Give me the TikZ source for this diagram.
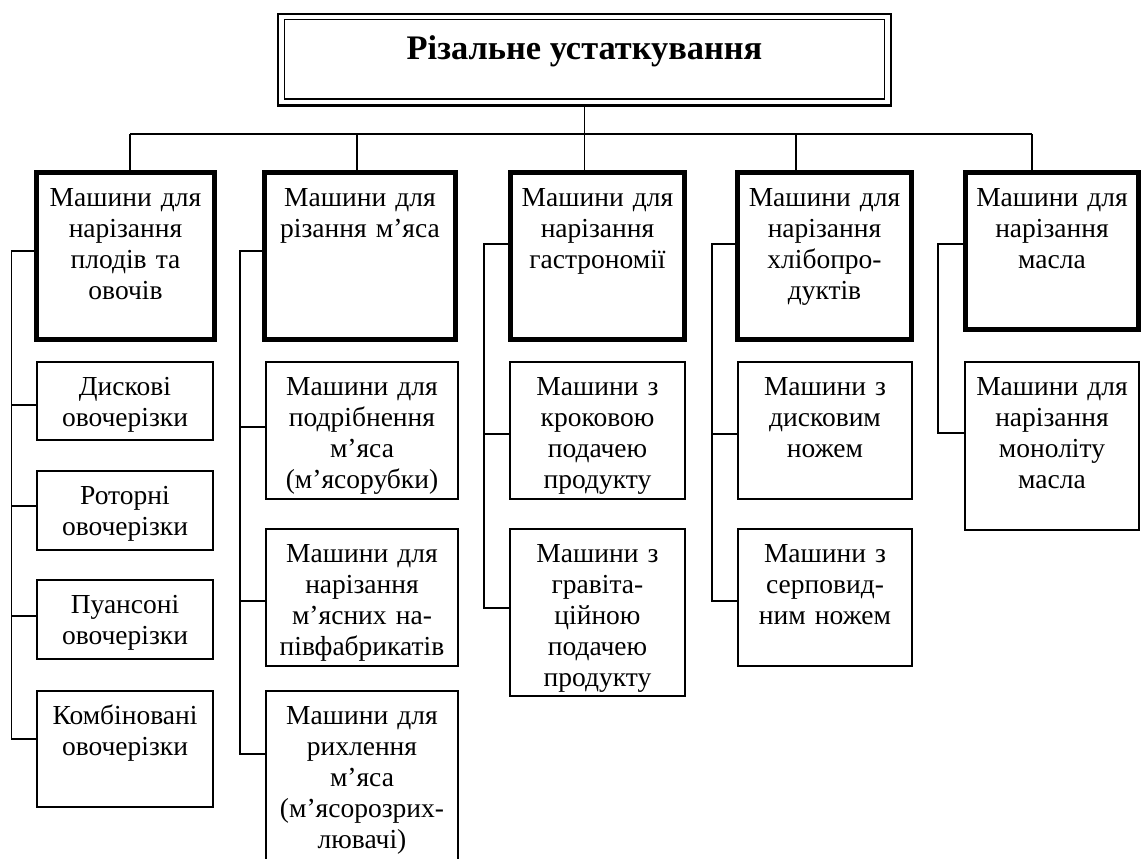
\documentclass[tikz,border=0pt]{standalone}
\usepackage{fontspec}
\setmainfont{Liberation Serif}
\usetikzlibrary{calc}
\begin{document}
\begin{tikzpicture}[x=1pt,y=-1pt,
  conn/.style={line width=1.8pt},
  catbox/.style={draw, line width=5pt, inner sep=0pt, outer sep=0pt},
  subbox/.style={draw, line width=2pt, inner sep=0pt, outer sep=0pt},
  txt/.style={anchor=base, inner sep=0pt, text width=200pt, align=center,
              font=\fontsize{27.5}{31}\selectfont},
]
\clip (0,0) rectangle (1141,859);
\fill[white] (0,0) rectangle (1141,859);

% ---- root: double frame ----
\node[draw, line width=2.5pt, minimum width=613pt, minimum height=91.3pt,
      inner sep=0pt, outer sep=0pt] (top) at (584.5,59.7) {};
\node[draw, line width=1.8pt, minimum width=600pt, minimum height=79.5pt,
      inner sep=0pt, outer sep=0pt] (topin) at (584.5,59.25) {};
\node[anchor=base, inner sep=0pt, font=\bfseries\fontsize{34.4}{38}\selectfont]
      (title) at ($(top.north)+(0,45.5)$) {Різальне устаткування};

% ---- categories ----
\node[catbox, minimum width=178pt, minimum height=167pt] (c1) at (125.5,256) {};
\node[catbox, minimum width=191pt, minimum height=167pt] (c2) at (360,256) {};
\node[catbox, minimum width=174pt, minimum height=167pt] (c3) at (597.5,256) {};
\node[catbox, minimum width=174pt, minimum height=167pt] (c4) at (824.5,256) {};
\node[catbox, minimum width=173pt, minimum height=157pt] (c5) at (1052,251) {};

\node[txt] (c1t) at ($(c1.north)+(0,33.5)$) {Машини для\\нарізання\\плодів та\\овочів};
\node[txt] (c2t) at ($(c2.north)+(0,33.5)$) {Машини для\\різання м’яса};
\node[txt] (c3t) at ($(c3.north)+(0,33.5)$) {Машини для\\нарізання\\гастрономії};
\node[txt] (c4t) at ($(c4.north)+(0,33.5)$) {Машини для\\нарізання\\хлібопро-\\дуктів};
\node[txt] (c5t) at ($(c5.north)+(0,33.5)$) {Машини для\\нарізання\\масла};

% ---- column 1 ----
\node[subbox, minimum width=176pt, minimum height=78pt]  (s11) at (125,401) {};
\node[subbox, minimum width=176pt, minimum height=79pt]  (s12) at (125,510.5) {};
\node[subbox, minimum width=176pt, minimum height=79pt]  (s13) at (125,619.5) {};
\node[subbox, minimum width=176pt, minimum height=116pt] (s14) at (125,749) {};
\node[txt] (s11t) at ($(s11.north)+(0,33.5)$) {Дискові\\овочерізки};
\node[txt] (s12t) at ($(s12.north)+(0,33.5)$) {Роторні\\овочерізки};
\node[txt] (s13t) at ($(s13.north)+(0,33.5)$) {Пуансоні\\овочерізки};
\node[txt] (s14t) at ($(s14.north)+(0,33.5)$) {Комбіновані\\овочерізки};

% ---- column 2 ----
\node[subbox, minimum width=192pt, minimum height=137pt] (s21) at (362,430.5) {};
\node[subbox, minimum width=192pt, minimum height=137pt] (s22) at (362,597.5) {};
\node[subbox, minimum width=192pt, minimum height=208pt] (s23) at (362,795) {};
\node[txt] (s21t) at ($(s21.north)+(0,33)$) {Машини для\\подрібнення\\м’яса\\(м’ясорубки)};
\node[txt] (s22t) at ($(s22.north)+(0,33)$) {Машини для\\нарізання\\м’ясних на-\\півфабрикатів};
\node[txt] (s23t) at ($(s23.north)+(0,33)$) {Машини для\\рихлення\\м’яса\\(м’ясорозрих-\\лювачі)};

% ---- column 3 ----
\node[subbox, minimum width=175pt, minimum height=137pt] (s31) at (597.5,430.5) {};
\node[subbox, minimum width=175pt, minimum height=167pt] (s32) at (597.5,612.5) {};
\node[txt] (s31t) at ($(s31.north)+(0,33)$) {Машини з\\кроковою\\подачею\\продукту};
\node[txt] (s32t) at ($(s32.north)+(0,33)$) {Машини з\\гравіта-\\ційною\\подачею\\продукту};

% ---- column 4 ----
\node[subbox, minimum width=174pt, minimum height=137pt] (s41) at (825,430.5) {};
\node[subbox, minimum width=174pt, minimum height=137pt] (s42) at (825,597.5) {};
\node[txt] (s41t) at ($(s41.north)+(0,33)$) {Машини з\\дисковим\\ножем};
\node[txt] (s42t) at ($(s42.north)+(0,33)$) {Машини з\\серповид-\\ним ножем};

% ---- column 5 ----
\node[subbox, minimum width=174pt, minimum height=168pt] (s51) at (1052,446) {};
\node[txt] (s51t) at ($(s51.north)+(0,33)$) {Машини для\\нарізання\\моноліту\\масла};

% ---- tree from the root ----
\coordinate (d1) at (130,134);
\coordinate (d2) at (357,134);
\coordinate (d3) at (584.5,134);
\coordinate (d4) at (796,134);
\coordinate (d5) at (1032,134);
\draw[conn] (top.south) -- (d3);
\draw[conn] (d1) -- (d5);
\foreach \k in {1,...,5} \draw[conn] (d\k) -- (d\k |- c\k.north);

% ---- side buses ----
\coordinate (k1) at (11.5,251);
\coordinate (k2) at (240,251);
\coordinate (k3) at (484,244);
\coordinate (k4) at (712,244);
\coordinate (k5) at (938,244);

\coordinate (p11) at ($(s11.west)+(0,4)$);
\coordinate (p12) at ($(s12.west)+(0,-4.5)$);
\coordinate (p13) at ($(s13.west)+(0,-3.5)$);
\coordinate (p14) at ($(s14.west)+(0,-10)$);
\coordinate (p21) at ($(s21.west)+(0,-3.5)$);
\coordinate (p22) at ($(s22.west)+(0,3.5)$);
\coordinate (p23) at ($(s23.north west)+(0,63)$);
\coordinate (p31) at ($(s31.west)+(0,3.5)$);
\coordinate (p32) at ($(s32.west)+(0,-4.5)$);
\coordinate (p41) at ($(s41.west)+(0,3.5)$);
\coordinate (p42) at ($(s42.west)+(0,3.5)$);
\coordinate (p51) at ($(s51.west)+(0,-13)$);

\draw[conn] (c1.west |- k1) -- (k1) |- (p14);
\foreach \p in {p11,p12,p13} \draw[conn] (k1 |- \p) -- (\p);
\draw[conn] (c2.west |- k2) -- (k2) |- (p23);
\foreach \p in {p21,p22} \draw[conn] (k2 |- \p) -- (\p);
\draw[conn] (c3.west |- k3) -- (k3) |- (p32);
\draw[conn] (k3 |- p31) -- (p31);
\draw[conn] (c4.west |- k4) -- (k4) |- (p42);
\draw[conn] (k4 |- p41) -- (p41);
\draw[conn] (c5.west |- k5) -- (k5) |- (p51);
\end{tikzpicture}
\end{document}
